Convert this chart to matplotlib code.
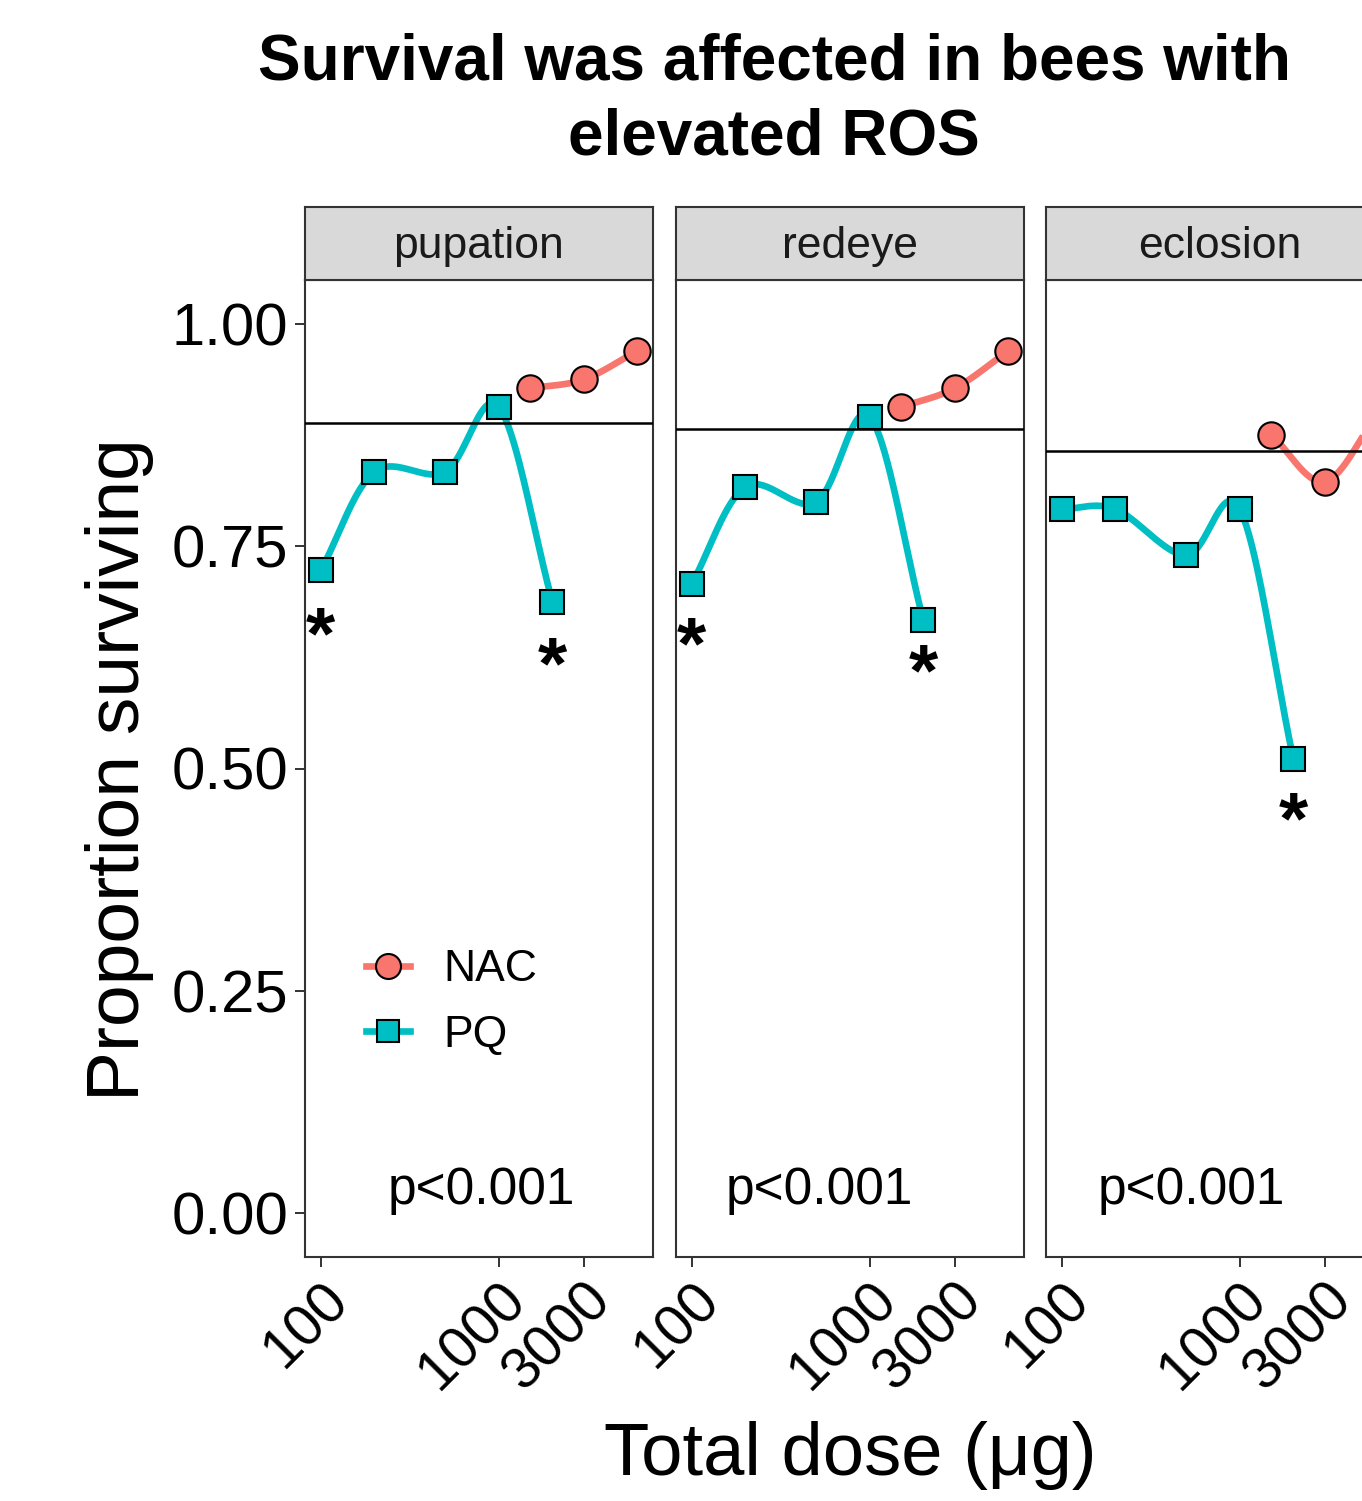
import numpy as np
import matplotlib
matplotlib.use('Agg')
import matplotlib.pyplot as plt
from matplotlib.lines import Line2D

plt.rcParams['font.family'] = ['Liberation Sans', 'DejaVu Sans']

# survival data per developmental stage
stages = ['pupation', 'redeye', 'eclosion']
pq_dose = [100, 200, 500, 1000, 2000]
nac_dose = [1500, 3000, 6000]
pq_surv = [[0.723, 0.834, 0.834, 0.907, 0.688],
           [0.708, 0.817, 0.800, 0.896, 0.667],
           [0.792, 0.792, 0.740, 0.792, 0.511]]
nac_surv = [[0.928, 0.938, 0.970],
            [0.907, 0.928, 0.970],
            [0.876, 0.823, 0.900]]
control = [0.889, 0.882, 0.858]
pvals = ['p<0.001', 'p<0.001', 'p<0.001']
# significant doses and where the star goes
star_dose = [[100, 2000], [100, 2000], [2000]]
star_y = [[0.661, 0.628], [0.650, 0.620], [0.453]]
pval_x = [800, 524, 537]

NAC_COL = '#F8766D'
PQ_COL = '#00BFC4'
FRAME = '#333333'


def spline(xs, ys, n=40, tension=0.0):
    # cardinal spline through the points, built in log10(x) space
    p = np.column_stack([np.log10(xs), ys])
    m = np.zeros_like(p)
    m[1:-1] = (1 - tension) * (p[2:] - p[:-2]) / 2
    m[0] = (1 - tension) * (p[1] - p[0])
    m[-1] = (1 - tension) * (p[-1] - p[-2])
    t = np.linspace(0, 1, n)[:, None]
    h00 = 2*t**3 - 3*t**2 + 1
    h10 = t**3 - 2*t**2 + t
    h01 = -2*t**3 + 3*t**2
    h11 = t**3 - t**2
    segs = []
    for i in range(len(p) - 1):
        segs.append(h00*p[i] + h10*m[i] + h01*p[i+1] + h11*m[i+1])
    out = np.vstack(segs)
    return 10**out[:, 0], out[:, 1]


W, H = 1362, 1501
fig = plt.figure(figsize=(W/100, H/100), dpi=100)


def box(l, t, r, b):
    return [l/W, 1 - b/H, (r - l)/W, (b - t)/H]


lefts = [305, 676, 1046]
pw = 348
for k, st in enumerate(stages):
    l = lefts[k]
    ax = fig.add_axes(box(l, 280, l + pw, 1257))
    ax.set_xscale('log')
    ax.set_xlim(10**1.911, 10**3.867)
    ax.set_ylim(-0.05, 1.05)

    sx, sy = spline(pq_dose, pq_surv[k])
    ax.plot(sx, sy, color=PQ_COL, lw=4.8, solid_capstyle='butt', zorder=2)
    sx, sy = spline(nac_dose, nac_surv[k])
    ax.plot(sx, sy, color=NAC_COL, lw=4.8, solid_capstyle='butt', zorder=2)
    ax.plot(pq_dose, pq_surv[k], 's', ms=17.5, mfc=PQ_COL, mec='black', mew=1.5, zorder=3)
    ax.plot(nac_dose, nac_surv[k], 'o', ms=19, mfc=NAC_COL, mec='black', mew=1.5, zorder=3)
    ax.axhline(control[k], color='black', lw=1.8, zorder=4)

    for d, yy in zip(star_dose[k], star_y[k]):
        ax.text(d, yy - 0.007, '*', fontsize=54, ha='center', va='center_baseline',
                color='black', fontweight='bold')
    ax.text(pval_x[k], 0.025, pvals[k], fontsize=37, ha='center', va='center')

    for s in ax.spines.values():
        s.set_color(FRAME)
        s.set_linewidth(1.5)
    ax.set_xticks([100, 1000, 3000])
    ax.set_xticklabels(['100', '1000', '3000'])
    ax.xaxis.set_minor_locator(matplotlib.ticker.NullLocator())
    ax.tick_params(axis='x', length=7, width=1.4, color=FRAME, labelsize=41, pad=4)
    for lab in ax.get_xticklabels():
        lab.set_rotation(45)
        lab.set_ha('right')
        lab.set_va('top')
        lab.set_rotation_mode('anchor')
    ax.set_yticks([0, 0.25, 0.5, 0.75, 1.0])
    if k == 0:
        ax.set_yticklabels(['0.00', '0.25', '0.50', '0.75', '1.00'])
        ax.tick_params(axis='y', length=7, width=1.4, color=FRAME, labelsize=43, pad=5)
        handles = [Line2D([], [], color=NAC_COL, lw=4.8, marker='o', ms=18, mfc=NAC_COL, mec='black', mew=1.5),
                   Line2D([], [], color=PQ_COL, lw=4.8, marker='s', ms=16.5, mfc=PQ_COL, mec='black', mew=1.5)]
        ax.legend(handles, ['NAC', 'PQ'], loc='upper left', bbox_to_anchor=(0.175, 0.315),
                  frameon=False, fontsize=32, handlelength=1.0, handletextpad=0.75,
                  labelspacing=0.55, borderpad=0, borderaxespad=0)
    else:
        ax.tick_params(axis='y', left=False, labelleft=False)

    sax = fig.add_axes(box(l, 207, l + pw, 280))
    sax.set_facecolor('#D9D9D9')
    sax.set_xticks([])
    sax.set_yticks([])
    for s in sax.spines.values():
        s.set_color(FRAME)
        s.set_linewidth(1.5)
    sax.text(0.5, 0.46, st, transform=sax.transAxes, ha='center', va='center',
             fontsize=32, color='#1A1A1A')

fig.text(774/W, 1 - 100/H, 'Survival was affected in bees with\nelevated ROS',
         ha='center', va='center', fontsize=46, fontweight='bold', linespacing=1.3)
fig.text(120/W, 1 - 770/H, 'Proportion surviving', rotation=90, ha='center', va='center', fontsize=54)
fig.text(850/W, 1 - 1455/H, 'Total dose (μg)', ha='center', va='center', fontsize=53.5)

fig.savefig('out.png', dpi=100)
